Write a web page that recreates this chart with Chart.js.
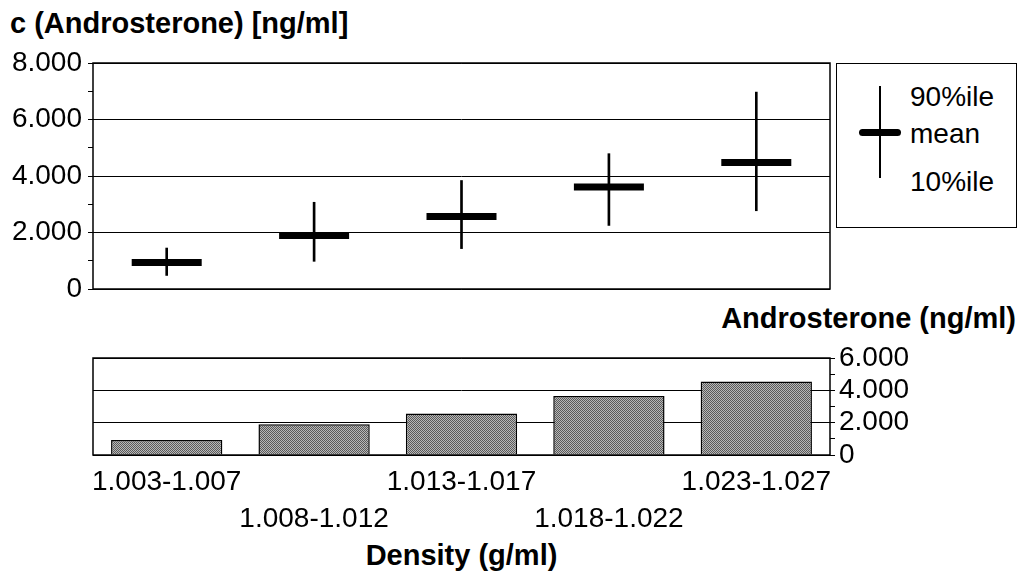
<!DOCTYPE html>
<html>
<head>
<meta charset="utf-8">
<script src="https://cdn.jsdelivr.net/npm/chart.js@4"></script>
<style>
  body { margin: 0; background: #fff; width: 1021px; height: 576px; overflow: hidden; position: relative; font-family: "Liberation Sans", Arial, sans-serif; color: #000; }
  .abs { position: absolute; }
  .label { position: absolute; font-size: 28px; line-height: 30px; white-space: nowrap; }
  .bold { font-weight: bold; font-size: 29px; }
  #legend { left: 836px; top: 63px; width: 179px; height: 163px; border: 1.5px solid #000; }
  #lgV { left: 42px; top: 22px; width: 2px; height: 92px; background: #000; }
  #lgH { left: 22px; top: 65px; width: 42px; height: 7px; border-radius: 3.5px; background: #000; }
</style>
</head>
<body>
<div class="label bold" style="left:10px; top:8px;">c (Androsterone) [ng/ml]</div>
<div class="label bold" style="right:5px; top:303px;">Androsterone (ng/ml)</div>
<div class="label bold" style="left:93px; width:737px; text-align:center; top:540px;">Density (g/ml)</div>

<div id="legend" class="abs">
  <div id="lgV" class="abs"></div>
  <div id="lgH" class="abs"></div>
  <div class="label" style="left:73px; top:18px;">90%ile</div>
  <div class="label" style="left:73px; top:55px;">mean</div>
  <div class="label" style="left:73px; top:103px;">10%ile</div>
</div>

<canvas id="topChart" class="abs" style="left:0; top:50px;"></canvas>
<canvas id="barChart" class="abs" style="left:0; top:340px;"></canvas>

<script>
// categories (density fractions, g/ml)
const densityBins = ['1.003-1.007', '1.008-1.012', '1.013-1.017', '1.018-1.022', '1.023-1.027'];
// androsterone, ng/ml
const meanValues = [0.94, 1.89, 2.57, 3.61, 4.48];
const p10Values = [0.48, 0.98, 1.43, 2.25, 2.77];
const p90Values = [1.45, 3.07, 3.84, 4.79, 6.97];
// bars in the lower panel (means)
const barValues = [0.93, 1.90, 2.57, 3.65, 4.54];

const topTickValues = [0, 2, 4, 6, 8];
const topTickLabels = ['0', '2.000', '4.000', '6.000', '8.000'];
const barTickValues = [0, 2, 4, 6];
const barTickLabels = ['0', '2.000', '4.000', '6.000'];

Chart.defaults.font.family = '"Liberation Sans", Arial, sans-serif';
Chart.defaults.color = '#000';
Chart.defaults.animation = false;

// box round the plot area
const frame = {
  id: 'frame',
  afterDraw(chart) {
    const a = chart.chartArea, c = chart.ctx;
    c.save();
    c.strokeStyle = '#000';
    c.lineWidth = 1.5;
    c.strokeRect(a.left, a.top, a.right - a.left, a.bottom - a.top);
    c.restore();
  }
};

function tickText(values, labels) {
  return function (v) {
    const i = values.indexOf(v);
    return i >= 0 ? labels[i] : '';
  };
}

// fixed axis width, no extra room asked for the end labels
function fixWidth(w) {
  return function (s) {
    s.width = w;
    s.paddingTop = 0;
    s.paddingBottom = 0;
  };
}

// stippled grey like the printed bars
function stipple() {
  const p = document.createElement('canvas');
  p.width = 2; p.height = 2;
  const g = p.getContext('2d');
  g.fillStyle = '#b8b8b8'; g.fillRect(0, 0, 2, 2);
  g.fillStyle = '#5a5a5a'; g.fillRect(0, 0, 1, 1); g.fillRect(1, 1, 1, 1);
  return g.createPattern(p, 'repeat');
}

const whiskers = densityBins.map((_, i) => [p10Values[i], p90Values[i]]);

const topCanvas = document.getElementById('topChart');
topCanvas.width = 845; topCanvas.height = 260;
new Chart(topCanvas, {
  type: 'bar',
  data: {
    labels: densityBins,
    datasets: [
      {
        type: 'line',
        label: 'mean',
        data: meanValues,
        showLine: false,
        pointStyle: 'line',
        pointRadius: 35,
        pointHoverRadius: 35,
        pointBorderWidth: 7,
        pointHoverBorderWidth: 7,
        borderColor: '#000',
        backgroundColor: '#000'
      },
      {
        label: '10%ile - 90%ile',
        data: whiskers,
        barThickness: 2,
        backgroundColor: '#000',
        borderWidth: 0
      }
    ]
  },
  options: {
    responsive: false,
    layout: { autoPadding: false, padding: { top: 13, right: 15, bottom: 21, left: 0 } },
    plugins: { legend: { display: false }, tooltip: { enabled: false } },
    scales: {
      x: { display: false },
      y: {
        min: 0, max: 8,
        afterFit: fixWidth(93),
        ticks: { stepSize: 1, autoSkip: false, padding: 6, font: { size: 28 }, callback: tickText(topTickValues, topTickLabels) },
        grid: {
          color: c => (c.tick && c.tick.value % 2 === 0) ? '#000' : 'rgba(0,0,0,0)',
          tickColor: '#000',
          tickLength: 5,
          lineWidth: 1
        },
        border: { display: false }
      }
    }
  },
  plugins: [frame]
});

const barCanvas = document.getElementById('barChart');
barCanvas.width = 1021; barCanvas.height = 236;
new Chart(barCanvas, {
  type: 'bar',
  data: {
    labels: densityBins,
    datasets: [{
      label: 'Androsterone (ng/ml)',
      data: barValues,
      backgroundColor: stipple(),
      borderColor: '#000',
      borderWidth: 1.5,
      categoryPercentage: 1,
      barPercentage: 0.755
    }]
  },
  options: {
    responsive: false,
    layout: { autoPadding: false, padding: { top: 18, right: 0, bottom: 0, left: 93 } },
    plugins: { legend: { display: false }, tooltip: { enabled: false } },
    scales: {
      x: {
        afterFit(s) { s.height = 121; },
        grid: { display: false, drawTicks: false },
        border: { display: false },
        ticks: {
          autoSkip: false, maxRotation: 0, padding: 8,
          font: { size: 28, lineHeight: 1.35 },
          callback(v, i) { return i % 2 === 0 ? [densityBins[i], ''] : ['', densityBins[i]]; }
        }
      },
      y: {
        position: 'right',
        min: 0, max: 6,
        afterFit: fixWidth(191),
        ticks: { stepSize: 1, autoSkip: false, padding: 4, font: { size: 28 }, callback: tickText(barTickValues, barTickLabels) },
        grid: {
          color: c => (c.tick && c.tick.value % 2 === 0) ? '#000' : 'rgba(0,0,0,0)',
          tickColor: '#000',
          tickLength: 5,
          lineWidth: 1
        },
        border: { display: false }
      }
    }
  },
  plugins: [frame]
});
</script>
</body>
</html>
